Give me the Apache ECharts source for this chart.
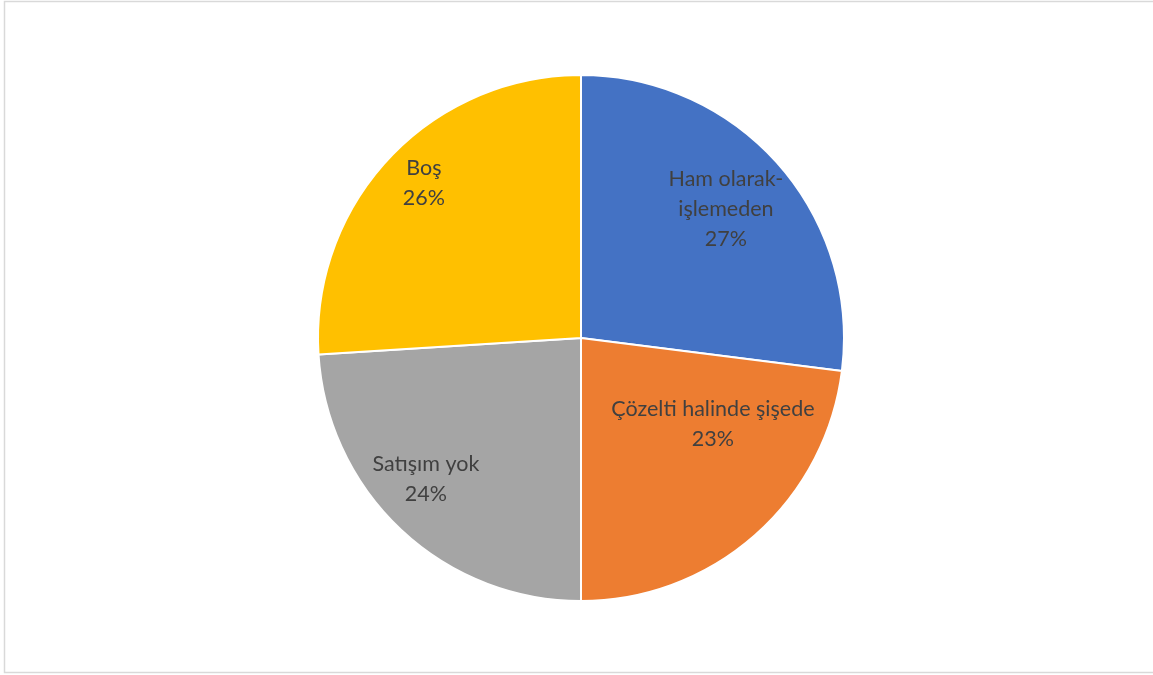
<!DOCTYPE html>
<html><head><meta charset="utf-8">
<script src="https://cdn.jsdelivr.net/npm/echarts@6/dist/echarts.min.js"></script>
<style>html,body{margin:0;padding:0;background:#fff}#c{width:1153px;height:675px}</style>
</head><body><div id="c"></div>
<script>
const categories = ['Ham olarak-\nişlemeden', 'Çözelti halinde şişede', 'Satışım yok', 'Boş'];
const values = [27, 23, 24, 26];
const colors = ['#4472C4', '#ED7D31', '#A5A5A5', '#FFC000'];

// label shifts relative to default inside position
const labelShift = [[44, -40], [43, -15], [-63, 43], [-59, -63]];

const chart = echarts.init(document.getElementById('c'), null, {renderer: 'canvas'});
chart.setOption({
  animation: false,
  backgroundColor: '#fff',
  graphic: [{
    type: 'rect', shape: {x: 4.5, y: 1.5, width: 1160, height: 671},
    style: {fill: 'none', stroke: '#d9d9d9', lineWidth: 1.5}, silent: true
  }],
  series: [{
    type: 'pie',
    center: [581, 338],
    radius: 263,
    startAngle: 90,
    clockwise: true,
    data: categories.map((n, i) => ({name: n, value: values[i], itemStyle: {color: colors[i]}})),
    itemStyle: {borderColor: '#fff', borderWidth: 2},
    label: {
      position: 'inside',
      formatter: p => p.name + '\n' + Math.round(p.percent) + '%',
      color: '#404040',
      fontFamily: 'Lato',
      fontSize: 21.5,
      lineHeight: 30,
      align: 'center'
    },
    labelLine: {show: false},
    labelLayout: p => ({dx: labelShift[p.dataIndex][0], dy: labelShift[p.dataIndex][1]})
  }]
});
</script></body></html>
